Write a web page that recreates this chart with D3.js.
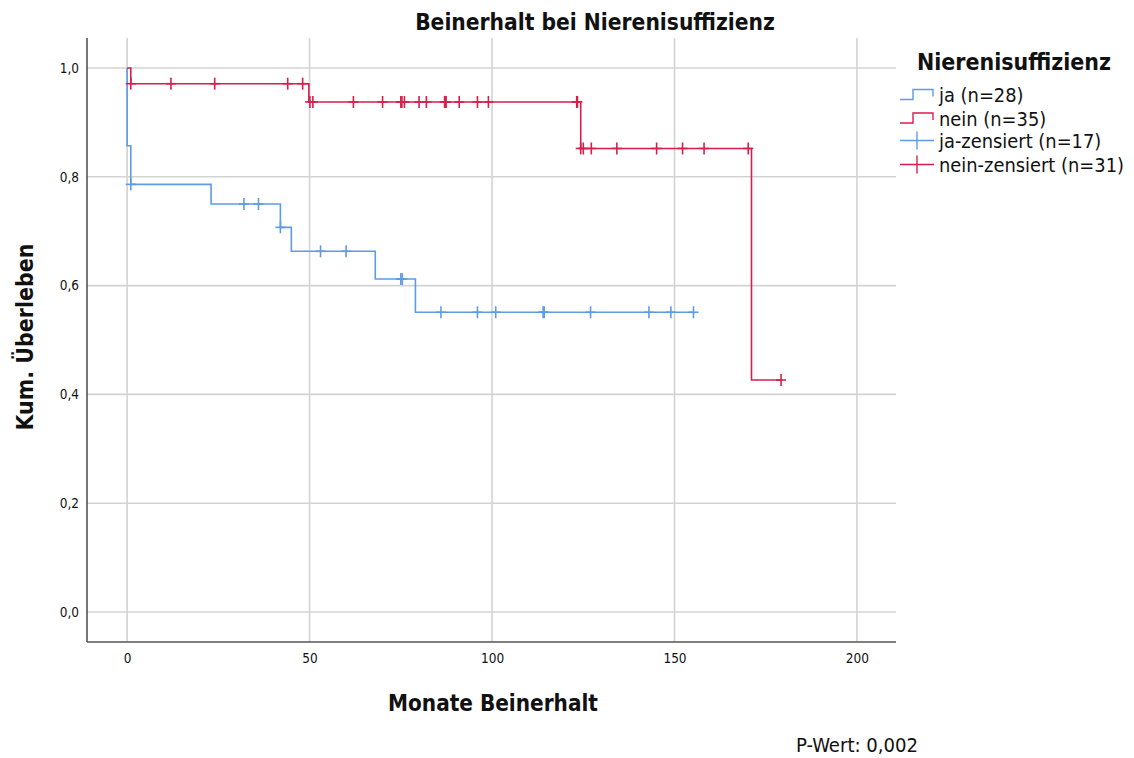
<!DOCTYPE html>
<html>
<head>
<meta charset="utf-8">
<script src="https://cdn.jsdelivr.net/npm/d3@7/dist/d3.min.js"></script>
<style>
  html, body { margin: 0; padding: 0; background: #ffffff; }
  svg { display: block; }
  text { font-family: "DejaVu Sans Condensed", "DejaVu Sans", sans-serif; fill: #111; }
</style>
</head>
<body>
<svg id="chart" width="1134" height="758"></svg>
<script>
// Kaplan-Meier: Beinerhalt nach Nierenisuffizienz
const groups = ["ja", "nein"];
const groupCounts = [28, 35];
const censoredCounts = [17, 31];

// ja: Ereigniszeiten (Monate) und Überlebensanteil nach dem Ereignis
const jaEventTimes = [0, 1, 23, 42, 45, 68, 79];
const jaSurvival   = [0.857, 0.786, 0.750, 0.707, 0.663, 0.612, 0.551];
const jaCensored   = [1, 32, 36, 42, 53, 60, 75, 75.4, 86, 96, 101, 114, 114.3, 127, 143, 149, 155.2];

// nein: Ereigniszeiten und Überlebensanteil
const neinEventTimes = [1, 49.8, 124.3, 171.1];
const neinSurvival   = [0.971, 0.9375, 0.852, 0.4265];
const neinCensored   = [1, 12, 24, 44, 48.1, 50.1, 50.9, 62, 70, 75, 75.3, 76, 80, 82, 87, 87.2, 87.4,
                        91, 96, 99, 123.2, 123.4, 124.3, 125, 127.2, 134.2, 145.1, 152.2, 158.1, 170.2, 179.2];

const xTicks = [0, 50, 100, 150, 200];
const yTicks = [0, 0.2, 0.4, 0.6, 0.8, 1.0];

const colors = { ja: "#5d9be6", nein: "#d81e4c" };

const svg = d3.select("#chart");

const x = d3.scaleLinear().domain([-11, 210.7]).range([87, 896]);
const y = d3.scaleLinear().domain([-0.055, 1.055]).range([642, 38]);

const fmt = d3.format(".1f");
const comma = v => fmt(v).replace(".", ",");

// fit a text element to a target width by adjusting its font size
function fit(sel, width, size) {
  sel.style("font-size", size + "px");
  const w = sel.node().getComputedTextLength();
  const s = size * width / w;
  sel.style("font-size", s.toFixed(2) + "px");
  return s;
}

// gridlines
const grid = svg.append("g").attr("stroke", "#d3d3d3").attr("stroke-width", 1.6);
grid.selectAll("line.h").data(yTicks).join("line")
  .attr("x1", x.range()[0]).attr("x2", x.range()[1])
  .attr("y1", d => y(d)).attr("y2", d => y(d));
grid.selectAll("line.v").data(xTicks).join("line")
  .attr("y1", y.range()[1]).attr("y2", y.range()[0])
  .attr("x1", d => x(d)).attr("x2", d => x(d));

// axes
const xAxis = svg.append("g").attr("transform", `translate(0,${y.range()[0]})`)
  .call(d3.axisBottom(x).tickValues(xTicks).tickSize(0).tickPadding(11).tickFormat(d3.format("d")));
const yAxis = svg.append("g").attr("transform", `translate(${x.range()[0]},0)`)
  .call(d3.axisLeft(y).tickValues(yTicks).tickSize(0).tickPadding(8).tickFormat(comma));
[xAxis, yAxis].forEach(a => {
  a.select(".domain").attr("stroke", "#555").attr("stroke-width", 1.6);
  a.selectAll("text").style("font-size", "13.5px").style("font-family", '"DejaVu Sans Condensed", sans-serif').attr("fill", "#222");
});
xAxis.select(".domain").attr("d", `M${x.range()[0]},0H${x.range()[1]}`);
yAxis.select(".domain").attr("d", `M0,${y.range()[1]}V${y.range()[0]}`);

// step curve and censor marks
function survivalAt(times, surv, t) {
  let s = 1;
  for (let i = 0; i < times.length; i++) if (t >= times[i]) s = surv[i];
  return s;
}

function drawGroup(key, times, surv, censored) {
  const lastT = d3.max(censored.concat(times));
  const pts = [[0, 1]];
  times.forEach((t, i) => pts.push([t, surv[i]]));
  pts.push([lastT, surv[surv.length - 1]]);
  const line = d3.line().x(d => x(d[0])).y(d => y(d[1])).curve(d3.curveStepAfter);
  const g = svg.append("g");
  g.append("path").attr("d", line(pts))
    .attr("fill", "none").attr("stroke", colors[key]).attr("stroke-width", 1.6);
  const marks = g.selectAll("g.c").data(censored).join("g")
    .attr("transform", t => `translate(${x(t)},${y(survivalAt(times, surv, t))})`);
  marks.append("line").attr("x1", -5).attr("x2", 5).attr("y1", 0).attr("y2", 0)
    .attr("stroke", colors[key]).attr("stroke-width", 1.6);
  marks.append("line").attr("x1", 0).attr("x2", 0).attr("y1", -6).attr("y2", 6)
    .attr("stroke", colors[key]).attr("stroke-width", 1.6);
}

drawGroup("ja", jaEventTimes, jaSurvival, jaCensored);
drawGroup("nein", neinEventTimes, neinSurvival, neinCensored);

// titles
fit(svg.append("text").attr("x", 595).attr("y", 22).attr("dy", "0.35em")
  .attr("text-anchor", "middle").attr("font-weight", "bold")
  .text("Beinerhalt bei Nierenisuffizienz"), 360, 19);

fit(svg.append("text").attr("x", 493).attr("y", 703).attr("dy", "0.35em")
  .attr("text-anchor", "middle").attr("font-weight", "bold")
  .text("Monate Beinerhalt"), 210, 20);

fit(svg.append("text").attr("transform", "translate(25,337) rotate(-90)").attr("dy", "0.35em")
  .attr("text-anchor", "middle").attr("font-weight", "bold")
  .text("Kum. Überleben"), 187, 20);

fit(svg.append("text").attr("x", 918).attr("y", 745).attr("dy", "0.35em")
  .attr("text-anchor", "end")
  .text("P-Wert: 0,002"), 122, 15);

// legend
fit(svg.append("text").attr("x", 917).attr("y", 62).attr("dy", "0.35em")
  .attr("font-weight", "bold").text("Nierenisuffizienz"), 194, 20);

const legendItems = [
  { key: "ja", type: "step", label: `${groups[0]} (n=${groupCounts[0]})` },
  { key: "nein", type: "step", label: `${groups[1]} (n=${groupCounts[1]})` },
  { key: "ja", type: "censor", label: `${groups[0]}-zensiert (n=${censoredCounts[0]})` },
  { key: "nein", type: "censor", label: `${groups[1]}-zensiert (n=${censoredCounts[1]})` }
];
const legendY = [95.5, 119, 141.5, 165.5];
const lg = svg.append("g");
const labels = [];
legendItems.forEach((d, i) => {
  const cy = legendY[i];
  if (d.type === "step") {
    lg.append("path").attr("d", `M900,${cy + 4}H913V${cy - 6}H933V${cy + 1}`)
      .attr("fill", "none").attr("stroke", colors[d.key]).attr("stroke-width", 1.4);
  } else {
    lg.append("line").attr("x1", 900).attr("x2", 934).attr("y1", cy - 1).attr("y2", cy - 1)
      .attr("stroke", colors[d.key]).attr("stroke-width", 1.4);
    lg.append("line").attr("x1", 917).attr("x2", 917).attr("y1", cy - 10).attr("y2", cy + 8)
      .attr("stroke", colors[d.key]).attr("stroke-width", 1.4);
  }
  labels.push(lg.append("text").attr("x", 939).attr("y", cy).attr("dy", "0.35em").text(d.label));
});
// common legend font size, sized by the longest entry
const legendSize = fit(labels[3], 185, 16);
labels.forEach(l => l.style("font-size", legendSize.toFixed(2) + "px"));
</script>
</body>
</html>
